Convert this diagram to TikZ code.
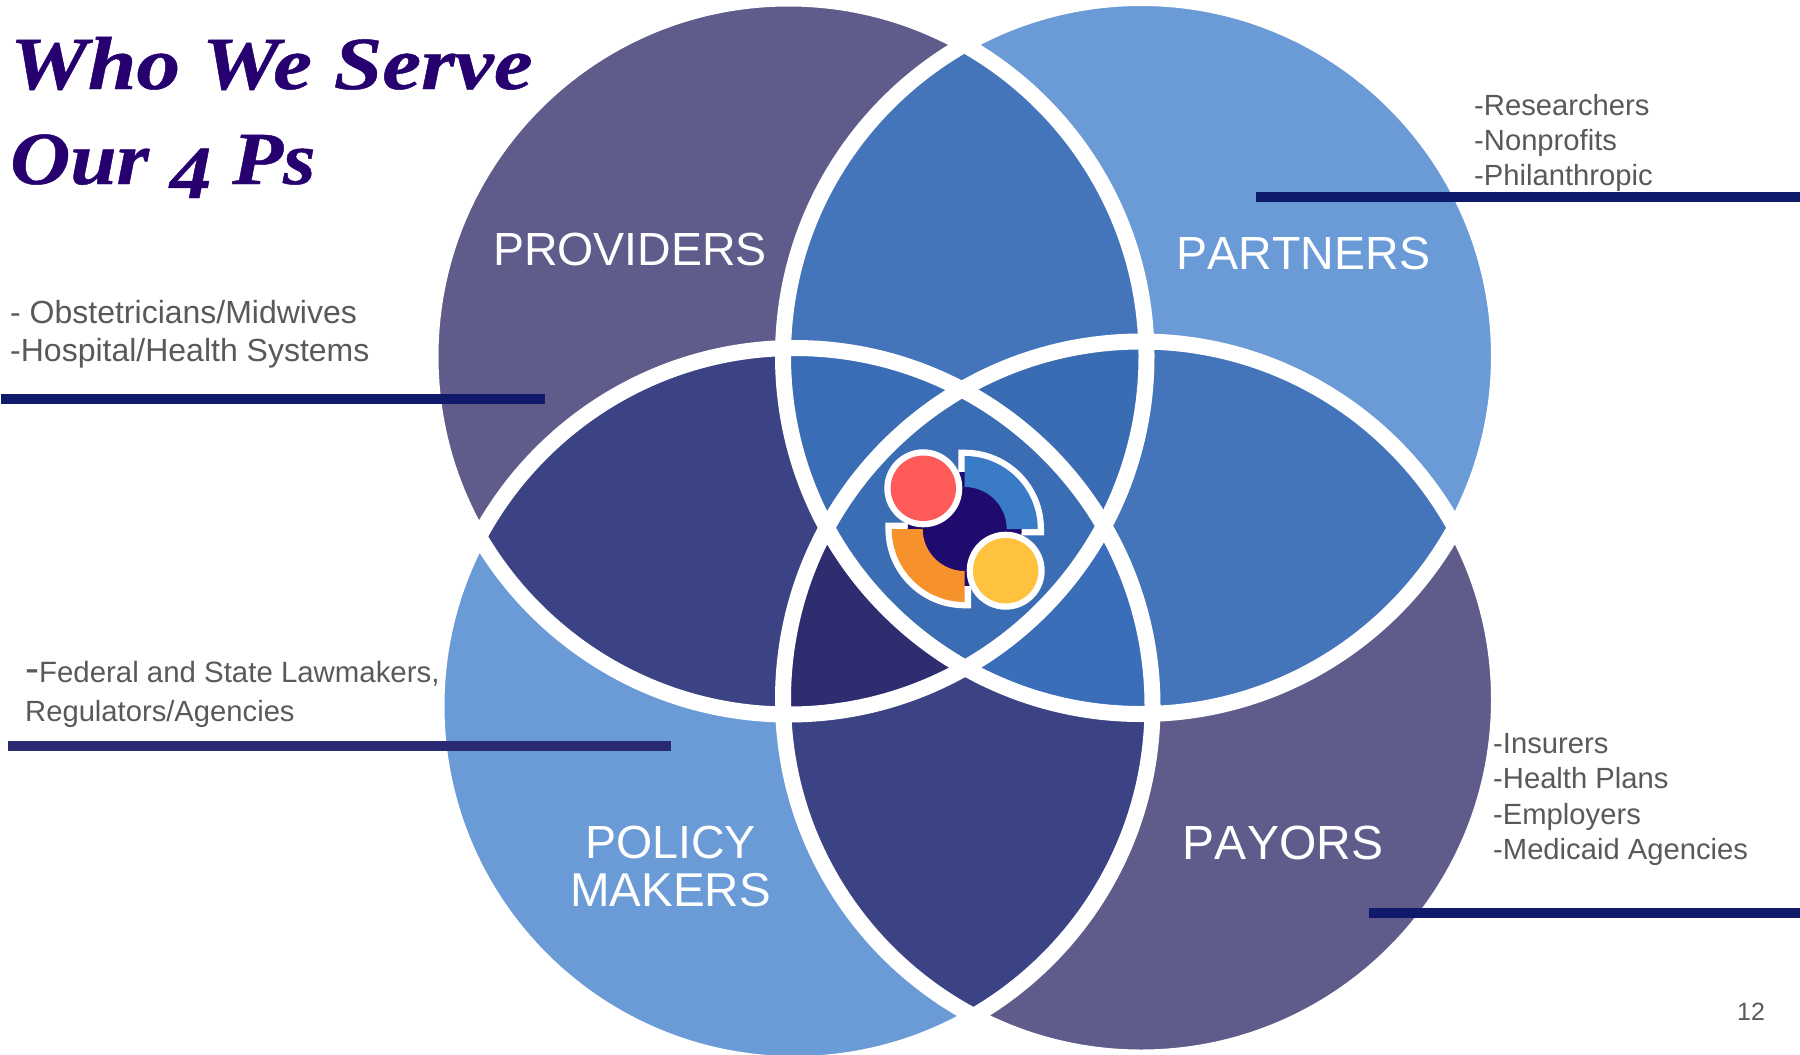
\documentclass[tikz,border=0pt]{standalone}
\usepackage{fontspec}
\usepackage{graphicx}
\setsansfont{Liberation Sans}
\newfontfamily\titlefont{Liberation Serif}[BoldItalicFeatures={FakeBold=0.6}]
\definecolor{plum}{HTML}{5F5C8C}
\definecolor{sky}{HTML}{6B9BD7}
\definecolor{lensblue}{HTML}{4475BA}
\definecolor{lensnavy}{HTML}{3B4385}
\definecolor{triA}{HTML}{3A6DB5}
\definecolor{triB}{HTML}{3A6CB3}
\definecolor{triC}{HTML}{2E2D70}
\definecolor{triD}{HTML}{3A6EB8}
\definecolor{midblue}{HTML}{3A6DB4}
\definecolor{titlecol}{HTML}{26006F}
\definecolor{bodygrey}{HTML}{595959}
\definecolor{ruleA}{HTML}{101A6B}
\definecolor{ruleB}{HTML}{2A2A72}
\definecolor{logodark}{HTML}{1F0A6E}
\definecolor{logoblue}{HTML}{3A7BC8}
\definecolor{logoorange}{HTML}{F7912C}
\definecolor{logored}{HTML}{FF5A5A}
\definecolor{logoyellow}{HTML}{FFC23F}
\tikzset{
  titletext/.style={anchor=base west,inner sep=0pt,text=titlecol,font=\titlefont\bfseries\itshape\fontsize{75}{75}\selectfont},
  bodytext/.style={anchor=base west,inner sep=0pt,text=bodygrey,font=\sffamily\fontsize{29.2}{29.2}\selectfont},
  bigbody/.style={anchor=base west,inner sep=0pt,text=bodygrey,font=\sffamily\fontsize{32}{32}\selectfont},
  circlelabel/.style={anchor=base,inner sep=0pt,text=white,font=\sffamily\fontsize{46.5}{46.5}\selectfont\addfontfeature{Kerning=Off}},
}
\def\TL{(788.5,356.5) circle[radius=358pt]}
\def\TR{(1141,356) circle[radius=358pt]}
\def\BL{(794.5,706) circle[radius=358pt]}
\def\BR{(1141,699.5) circle[radius=358pt]}
\begin{document}
\begin{tikzpicture}[x=1pt,y=-1pt]
\useasboundingbox (0,0) rectangle (1800,1055);
\clip (0,0) rectangle (1800,1055);
% single circles
\fill[plum] \TL; \fill[sky] \TR; \fill[sky] \BL; \fill[plum] \BR;
% pairs
\begin{scope}\clip \TL; \fill[lensblue] \TR; \end{scope}
\begin{scope}\clip \TL; \fill[lensnavy] \BL; \end{scope}
\begin{scope}\clip \TR; \fill[lensblue] \BR; \end{scope}
\begin{scope}\clip \BL; \fill[lensnavy] \BR; \end{scope}
% triples
\begin{scope}\clip \TL; \clip \TR; \fill[triA] \BL; \end{scope}
\begin{scope}\clip \TL; \clip \TR; \fill[triB] \BR; \end{scope}
\begin{scope}\clip \TL; \clip \BL; \fill[triC] \BR; \end{scope}
\begin{scope}\clip \TR; \clip \BL; \fill[triD] \BR; \end{scope}
% centre
\begin{scope}\clip \TL; \clip \TR; \clip \BL; \fill[midblue] \BR; \end{scope}
% white rings
\draw[white,line width=16pt] \TL; \draw[white,line width=16pt] \TR;
\draw[white,line width=16pt] \BL; \draw[white,line width=16pt] \BR;
% logo
\coordinate (lc) at (964.7,529);
\draw[white,line width=12.6pt,miter limit=10] (lc) ++(0,-73) arc[start angle=90,end angle=0,radius=73pt] -- ++(-31,0) arc[start angle=0,end angle=90,radius=42pt] -- cycle;
\draw[white,line width=12.6pt,miter limit=10] (lc) ++(0,73) arc[start angle=270,end angle=180,radius=73pt] -- ++(31,0) arc[start angle=180,end angle=270,radius=42pt] -- cycle;
\fill[logodark] (lc) circle[radius=57pt];
\fill[logoblue] (lc) ++(0,-73) arc[start angle=90,end angle=0,radius=73pt] -- ++(-31,0) arc[start angle=0,end angle=90,radius=42pt] -- cycle;
\fill[logoorange] (lc) ++(0,73) arc[start angle=270,end angle=180,radius=73pt] -- ++(31,0) arc[start angle=180,end angle=270,radius=42pt] -- cycle;
\fill[white] (923.3,488.3) circle[radius=39pt];
\fill[white] (1005.7,570.7) circle[radius=39pt];
\fill[logored] (923.3,488.3) circle[radius=32.7pt];
\fill[logoyellow] (1005.7,570.7) circle[radius=32.7pt];
% rules
\fill[ruleA] (1,394) rectangle (544.6,404);
\fill[ruleB] (8,741) rectangle (670.5,751);
\fill[ruleA] (1256,192) rectangle (1800,202);
\fill[ruleA] (1369,908) rectangle (1800,918);
% title
\node[titletext] (t1) at (10,89) {\scalebox{1.165}[1]{Who We Serve}};
\node[titletext] (t2) at (10,184) {\scalebox{1.11}[1]{Our \raisebox{-14pt}{4} Ps}};
% circle labels
\node[circlelabel] (prov) at (630,265) {PROVIDERS};
\node[circlelabel] (part) at (1303.5,269) {PARTNERS};
\node[circlelabel,font=\sffamily\fontsize{48}{48}\selectfont\addfontfeature{Kerning=Off}] (pay) at (1283,859) {PAYORS};
\node[circlelabel] (pol1) at (670.6,858) {POLICY};
\node[circlelabel,font=\sffamily\fontsize{47.5}{47.5}\selectfont\addfontfeature{Kerning=Off}] (pol2) at (670.6,906.7) {MAKERS};
% lists
\node[bigbody] (a1) at (10,323.7) {- Obstetricians/Midwives};
\node[bigbody] (a2) at (10,361.7) {-Hospital/Health Systems};
\node[bodytext,font=\sffamily\fontsize{29.4}{29.4}\selectfont] (b1) at (25,682) {{\fontsize{42}{42}\selectfont -}Federal and State Lawmakers,};
\node[bodytext] (b2) at (25,721) {Regulators/Agencies};
\node[bodytext] (c1) at (1474,115) {-Researchers};
\node[bodytext] (c2) at (1474,150) {-Nonprofits};
\node[bodytext] (c3) at (1474,185) {-Philanthropic};
\node[bodytext] (d1) at (1493,753.7) {-Insurers};
\node[bodytext] (d2) at (1493,788.7) {-Health Plans};
\node[bodytext] (d3) at (1493,824) {-Employers};
\node[bodytext] (d4) at (1493,859) {-Medicaid Agencies};
\node[anchor=base west,inner sep=0pt,text=bodygrey,font=\sffamily\fontsize{25}{25}\selectfont] (num) at (1737,1020.7) {12};
\end{tikzpicture}
\end{document}
